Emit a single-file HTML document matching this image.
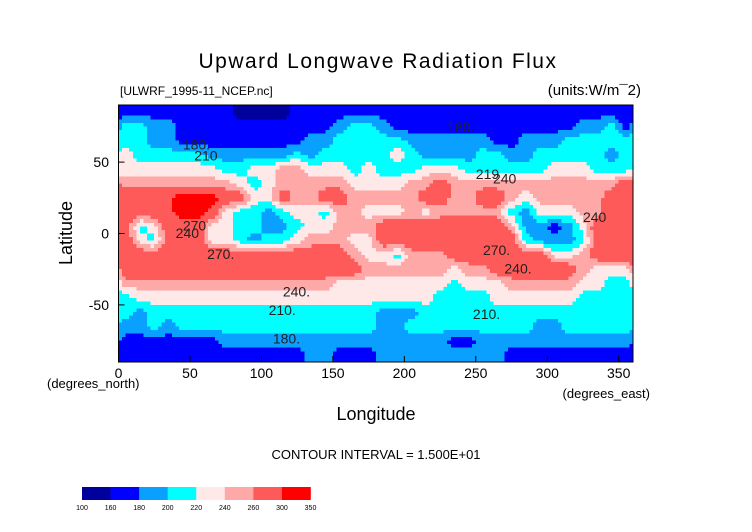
<!DOCTYPE html>
<html><head><meta charset="utf-8">
<style>
html,body{margin:0;padding:0;background:#fff;}
svg{display:block;font-family:"Liberation Sans",sans-serif;}
</style></head>
<body>
<svg id="chart" width="752" height="532" viewBox="0 0 752 532">
  <text x="378" y="68" text-anchor="middle" font-size="21" letter-spacing="1.5" font-weight="normal">Upward Longwave Radiation Flux</text>
  <text x="120" y="95" font-size="12">[ULWRF_1995-11_NCEP.nc]</text>
  <text x="641" y="95" text-anchor="end" font-size="15">(units:W/m¯2)</text>
  <g id="cells" shape-rendering="crispEdges"></g>
  <g id="labels"></g>
  <rect x="118.5" y="105" width="514.5" height="257" fill="none" stroke="#000" stroke-width="1"/>
  <g id="yaxis"></g>
  <g id="xaxis"></g>
  <text transform="translate(72,233) rotate(-90)" text-anchor="middle" font-size="18">Latitude</text>
  <text x="47" y="388" font-size="13">(degrees_north)</text>
  <text x="650" y="398" text-anchor="end" font-size="13">(degrees_east)</text>
  <text x="376" y="420" text-anchor="middle" font-size="18">Longitude</text>
  <text x="376" y="459" text-anchor="middle" font-size="13">CONTOUR INTERVAL = 1.500E+01</text>
  <g id="cbar"></g>
</svg>
<script>
const lats=[85,75,65,55,45,35,25,15,5,-5,-15,-25,-35,-45,-55,-65,-75,-85];
const lons=[5,15,25,35,45,55,65,75,85,95,105,115,125,135,145,155,165,175,185,195,205,215,225,235,245,255,265,275,285,295,305,315,325,335,345,355];
const levels=[100,160,180,200,220,240,260,300,350];
const levelColors=["#00009c","#0000ff","#0aa0ff","#00ffff","#ffe8e8","#ffa8a8","#ff5a5a","#ff0000"];
const yTicks=[50,0,-50];
const xTicks=[0,50,100,150,200,250,300,350];
const row0=[170,170,170,170,170,170,170,170,150,150,150,150,170,170,170,170,170,170,170,170,170,170,170,170,170,170,170,170,170,170,170,170,170,170,170,170];
const row1=[210,210,190,190,170,170,170,170,170,170,170,170,170,170,170,190,210,210,190,170,170,170,170,170,170,170,170,170,170,170,170,170,190,190,210,170];
const row2=[210,210,190,190,170,170,170,170,170,170,170,170,170,190,190,210,210,210,210,210,190,190,190,190,190,190,170,170,190,190,190,210,210,210,210,210];
const row3=[230,210,210,210,210,210,190,190,190,190,190,190,210,190,210,210,210,210,210,230,210,190,190,190,190,210,210,190,190,210,210,210,210,210,190,210];
const row4=[230,230,230,230,230,230,230,210,210,230,230,250,250,230,230,230,210,230,210,210,210,230,230,230,210,210,210,210,210,210,230,230,230,210,210,210];
const row5=[250,250,250,250,250,250,250,250,230,210,230,250,250,250,250,250,230,230,230,230,250,250,280,250,250,250,250,250,250,250,250,250,250,250,250,280];
const row6=[280,280,280,290,320,325,320,280,280,230,230,280,250,250,280,280,250,250,250,250,250,280,280,250,250,280,280,250,230,250,250,250,250,250,280,280];
const row7=[280,280,280,290,320,320,290,230,210,210,190,210,230,230,210,250,250,230,230,230,250,230,250,250,250,250,250,210,190,230,230,230,250,250,280,280];
const row8=[280,210,230,280,280,280,230,230,210,210,190,190,210,230,230,250,250,250,280,280,280,280,280,280,280,280,280,250,190,190,170,190,230,280,280,280];
const row9=[280,230,210,280,280,280,230,230,210,190,210,210,230,250,250,250,230,230,280,280,280,280,280,280,280,280,280,280,210,190,190,190,210,280,280,280];
const row10=[280,280,280,280,280,280,280,280,280,280,280,280,280,280,280,280,250,230,230,210,250,250,250,280,280,280,280,280,280,280,230,230,250,280,280,280];
const row11=[280,280,280,280,280,280,280,280,280,280,280,280,280,280,280,280,280,250,250,250,250,250,250,230,250,250,280,280,280,280,280,280,250,230,230,230];
const row12=[250,250,250,250,250,250,250,250,250,250,250,250,250,250,250,230,230,230,230,230,230,230,230,210,230,230,230,250,250,250,250,250,230,230,210,210];
const row13=[210,230,230,230,230,230,230,230,230,230,230,230,230,230,230,230,230,230,230,230,230,230,210,210,210,210,230,230,230,230,230,230,210,210,210,210];
const row14=[210,190,210,210,210,210,210,210,210,210,210,210,210,210,210,210,210,210,190,190,190,210,210,210,210,210,210,210,210,210,210,210,210,210,210,210];
const row15=[190,190,210,190,210,210,210,210,210,210,210,210,210,210,210,210,210,210,190,190,210,210,210,210,210,210,210,210,210,190,190,210,210,210,210,210];
const row16=[170,170,170,170,170,170,170,190,190,190,190,190,190,190,190,190,190,190,190,190,190,190,190,170,170,190,190,190,190,190,190,190,190,190,190,190];
const row17=[170,170,170,170,170,170,170,170,170,170,170,170,170,190,190,170,170,170,190,190,190,190,190,190,190,190,190,170,170,170,170,170,170,170,170,170];
const grid=[row0,row1,row2,row3,row4,row5,row6,row7,row8,row9,row10,row11,row12,row13,row14,row15,row16,row17];
const contourLabels=[{t:"180.",lon:45,lat:59},{t:"210",lon:53,lat:51},{t:"270",lon:45,lat:2},{t:"240",lon:40,lat:-3},{t:"270.",lon:62,lat:-18},{t:"240.",lon:115,lat:-44},{t:"210.",lon:105,lat:-57},{t:"180.",lon:108,lat:-77},{t:"180.",lon:230,lat:71},{t:"219",lon:250,lat:38},{t:"240",lon:262,lat:35},{t:"240",lon:325,lat:8},{t:"270.",lon:255,lat:-15},{t:"240.",lon:270,lat:-28},{t:"210.",lon:248,lat:-60}];

const NS="http://www.w3.org/2000/svg";
const X0=118.5,X1=633,Y0=105,Y1=362;
const xs=lon=>X0+(lon/360)*(X1-X0);
const ys=lat=>Y0+((90-lat)/180)*(Y1-Y0);
function colorFor(v){for(let i=levels.length-2;i>=0;i--){if(v>=levels[i])return levelColors[i];}return levelColors[0];}
function sample(lon,lat){
  const nL=lons.length,nR=lats.length;
  let fc=(lon-lons[0])/(lons[1]-lons[0]);
  let fr=(lats[0]-lat)/(lats[0]-lats[1]);
  fr=Math.max(0,Math.min(nR-1,fr));
  const r0=Math.floor(fr),r1=Math.min(nR-1,r0+1),tr=fr-r0;
  const c0f=Math.floor(fc),tc=fc-c0f;
  const c0=((c0f%nL)+nL)%nL,c1=(c0+1)%nL;
  const a=grid[r0][c0]*(1-tc)+grid[r0][c1]*tc;
  const b=grid[r1][c0]*(1-tc)+grid[r1][c1]*tc;
  return a*(1-tr)+b*tr;
}
const cells=document.getElementById('cells');
const step=2.5;
for(let lat=90;lat>-90;lat-=step){
  for(let lon=0;lon<360;lon+=step){
    const v=sample(lon+step/2,lat-step/2);
    const rc=document.createElementNS(NS,'rect');
    const x=xs(lon),y=ys(lat);
    rc.setAttribute('x',x.toFixed(2));rc.setAttribute('y',y.toFixed(2));
    rc.setAttribute('width',(xs(lon+step)-x+0.6).toFixed(2));
    rc.setAttribute('height',(ys(lat-step)-y+0.6).toFixed(2));
    rc.setAttribute('fill',colorFor(v));
    
    
    cells.appendChild(rc);
  }
}
const lg=document.getElementById('labels');
contourLabels.forEach(l=>{
  const t=document.createElementNS(NS,'text');
  t.setAttribute('x',xs(l.lon));t.setAttribute('y',ys(l.lat));
  t.setAttribute('font-size','14');t.setAttribute('fill','#222');
  t.textContent=l.t;
  
  
  lg.appendChild(t);
});
const ya=document.getElementById('yaxis');
yTicks.forEach(v=>{
  const t=document.createElementNS(NS,'text');
  t.setAttribute('x',109);t.setAttribute('y',ys(v)+5);
  t.setAttribute('text-anchor','end');t.setAttribute('font-size','14');
  t.textContent=v;
  
  
  ya.appendChild(t);
  const ln=document.createElementNS(NS,'line');
  ln.setAttribute('x1',X0);ln.setAttribute('x2',X0+6);ln.setAttribute('y1',ys(v));ln.setAttribute('y2',ys(v));
  ln.setAttribute('stroke','#000');
  
  
  ya.appendChild(ln);
});
const xa=document.getElementById('xaxis');
xTicks.forEach(v=>{
  const t=document.createElementNS(NS,'text');
  t.setAttribute('x',xs(v));t.setAttribute('y',378);
  t.setAttribute('text-anchor','middle');t.setAttribute('font-size','14');
  t.textContent=v;
  
  
  xa.appendChild(t);
  const ln=document.createElementNS(NS,'line');
  ln.setAttribute('x1',xs(v));ln.setAttribute('x2',xs(v));ln.setAttribute('y1',Y1);ln.setAttribute('y2',Y1-6);
  ln.setAttribute('stroke','#000');
  
  
  xa.appendChild(ln);
});
const cb=document.getElementById('cbar');
const CB0=82,CBW=228.5/8;
levelColors.forEach((c,i)=>{
  const r=document.createElementNS(NS,'rect');
  r.setAttribute('x',CB0+i*CBW);r.setAttribute('y',487);r.setAttribute('width',CBW+0.3);r.setAttribute('height',13);
  r.setAttribute('fill',c);
  
  
  cb.appendChild(r);
});
levels.forEach((v,i)=>{
  const t=document.createElementNS(NS,'text');
  t.setAttribute('x',CB0+i*CBW);t.setAttribute('y',510);
  t.setAttribute('text-anchor','middle');t.setAttribute('font-size','7');
  t.textContent=v;
  
  
  cb.appendChild(t);
});
</script>
</body></html>
